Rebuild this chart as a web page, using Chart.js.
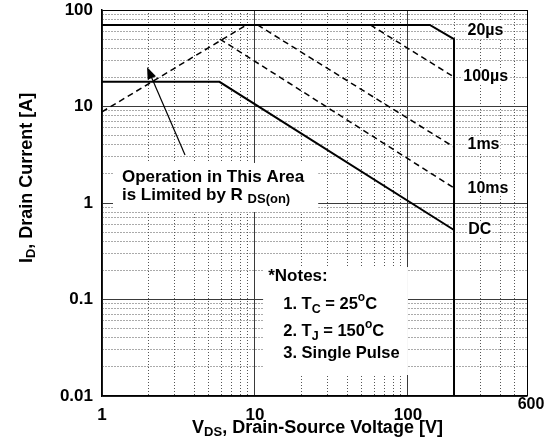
<!DOCTYPE html>
<html>
<head>
<meta charset="utf-8">
<style>
	html, body { margin: 0; padding: 0; background: #fff; }
	canvas { display: block; }
</style>
<script src="https://cdn.jsdelivr.net/npm/chart.js@4/dist/chart.umd.min.js"></script>
</head>
<body>
<canvas id="soa" width="557" height="443"></canvas>
<script>
// grid positions on both log axes
const xGrid = [1, 2, 3, 4, 5, 6, 7, 8, 9, 10, 20, 30, 40, 50, 60, 70, 80, 90, 100, 200, 300, 400, 500, 600];
const yGrid = [0.01, 0.02, 0.03, 0.04, 0.05, 0.06, 0.07, 0.08, 0.09,
	0.1, 0.2, 0.3, 0.4, 0.5, 0.6, 0.7, 0.8, 0.9,
	1, 2, 3, 4, 5, 6, 7, 8, 9,
	10, 20, 30, 40, 50, 60, 70, 80, 90, 100];
const xLabels = [1, 10, 100];
const xEdgeLabel = 600;
const yLabels = [0.01, 0.1, 1, 10, 100];

// SOA boundaries (V, A)
const rdsV = [1, 8.8];
const rdsI = [8.8, 70];
const us20V = [1, 139, 200, 200];
const us20I = [70, 70, 50, 0.01];
const us100V = [56.8, 200];
const us100I = [70, 20.2];
const ms1V = [10.4, 200];
const ms1I = [70, 3.8];
const ms10V = [5.9, 200];
const ms10I = [50, 1.43];
const dcV = [1, 5.86, 200];
const dcI = [18, 18, 0.525];

const FONT = '"Liberation Sans", Arial, sans-serif';

class SoaChart {
	_canvas;
	_chart;

	constructor(id) {
		this._canvas = document.getElementById(id);
	}

	series(xs, ys, dashed, width) {
		return {
			data: xs.map((x, i) => ({x: x, y: ys[i]})),
			showLine: true,
			pointRadius: 0,
			borderColor: '#000',
			borderWidth: width,
			borderDash: dashed ? [6, 4] : [],
			fill: false,
			tension: 0
		};
	}

	gridColor(ctx, majors, edge) {
		if (!ctx.tick) return '#000';
		const v = ctx.tick.value;
		if (v === edge) return '#000';
		return majors.includes(v) ? '#3a3a3a' : '#555';
	}

	gridDash(ctx, majors, edge) {
		if (!ctx.tick) return [];
		const v = ctx.tick.value;
		if (v === edge || majors.includes(v)) return [];
		return [1, 2];
	}

	// draws text pieces with sub / superscripts, from a left baseline point
	runs(ctx, x, y, parts) {
		let cx = x;
		for (const p of parts) {
			ctx.font = 'bold ' + p.size + 'px ' + FONT;
			ctx.fillText(p.t, cx, y + (p.dy || 0));
			cx += ctx.measureText(p.t).width;
		}
		return cx - x;
	}

	width(ctx, parts) {
		let w = 0;
		for (const p of parts) {
			ctx.font = 'bold ' + p.size + 'px ' + FONT;
			w += ctx.measureText(p.t).width;
		}
		return w;
	}

	decor() {
		const self = this;
		return {
			id: 'decor',
			beforeDatasetsDraw(chart) {
				const {ctx, scales: {x, y}} = chart;
				const box = (x0, y0, x1, y1) => {
					const l = x.getPixelForValue(x0), r = x.getPixelForValue(x1);
					const t = y.getPixelForValue(y0), b = y.getPixelForValue(y1);
					ctx.fillStyle = '#fff';
					ctx.fillRect(l, t, r - l, b - t);
				};
				ctx.save();
				box(1.18, 2.6, 25.9, 0.807);
				box(11.3, 0.217, 100, 0.0165);
				ctx.restore();
			},
			afterDatasetsDraw(chart) {
				const {ctx, scales: {x, y}} = chart;
				const at = (xv, yv) => [x.getPixelForValue(xv), y.getPixelForValue(yv)];
				ctx.save();
				ctx.fillStyle = '#000';
				ctx.textBaseline = 'alphabetic';
				ctx.textAlign = 'left';

				// curve labels on the right, with a tight white backing
				const tags = [
					['20\u00b5s', 245, 55.1],
					['100\u00b5s', 230, 18.4],
					['1ms', 245, 3.63],
					['10ms', 245, 1.27],
					['DC', 248, 0.477]
				];
				ctx.font = 'bold 16px ' + FONT;
				for (const [t, xv, yv] of tags) {
					const [px, py] = at(xv, yv);
					const w = ctx.measureText(t).width;
					ctx.fillStyle = '#fff';
					ctx.fillRect(px - 1, py - 13, w + 2, 16);
					ctx.fillStyle = '#000';
					ctx.fillText(t, px, py);
				}

				// R DS(on) note
				let [px, py] = at(1.35, 1.65);
				self.runs(ctx, px, py, [{t: 'Operation in This Area', size: 17}]);
				[px, py] = at(1.35, 1.07);
				self.runs(ctx, px, py, [
					{t: 'is Limited by R ', size: 17},
					{t: 'DS(on)', size: 13, dy: 3}
				]);

				// arrow toward the dashed limit line
				const [ax, ay] = at(3.49, 3.14);
				const [tx, ty] = at(1.97, 25.7);
				const ang = Math.atan2(ty - ay, tx - ax);
				ctx.strokeStyle = '#000';
				ctx.lineWidth = 1.2;
				ctx.beginPath();
				ctx.moveTo(ax, ay);
				ctx.lineTo(tx - 9 * Math.cos(ang), ty - 9 * Math.sin(ang));
				ctx.stroke();
				ctx.beginPath();
				ctx.moveTo(tx, ty);
				ctx.lineTo(tx - 12 * Math.cos(ang) + 4.5 * Math.sin(ang), ty - 12 * Math.sin(ang) - 4.5 * Math.cos(ang));
				ctx.lineTo(tx - 12 * Math.cos(ang) - 4.5 * Math.sin(ang), ty - 12 * Math.sin(ang) + 4.5 * Math.cos(ang));
				ctx.closePath();
				ctx.fill();

				// test conditions
				[px, py] = at(12.2, 0.156);
				self.runs(ctx, px, py, [{t: '*Notes:', size: 17}]);
				[px, py] = at(15.3, 0.0798);
				self.runs(ctx, px, py, [
					{t: '1. T', size: 16.5},
					{t: 'C', size: 12.5, dy: 4},
					{t: ' = 25', size: 16.5},
					{t: 'o', size: 12, dy: -8},
					{t: 'C', size: 16.5}
				]);
				[px, py] = at(15.3, 0.0419);
				self.runs(ctx, px, py, [
					{t: '2. T', size: 16.5},
					{t: 'J', size: 12.5, dy: 4},
					{t: ' = 150', size: 16.5},
					{t: 'o', size: 12, dy: -8},
					{t: 'C', size: 16.5}
				]);
				[px, py] = at(15.3, 0.0248);
				self.runs(ctx, px, py, [{t: '3. Single Pulse', size: 16.5}]);
				ctx.restore();
			},
			afterDraw(chart) {
				const {ctx, chartArea, scales: {x, y}} = chart;
				ctx.save();
				ctx.fillStyle = '#000';
				ctx.textBaseline = 'alphabetic';

				// last x tick sits above-right of the corner
				ctx.font = 'bold 16px ' + FONT;
				ctx.textAlign = 'center';
				ctx.fillText(String(xEdgeLabel), x.getPixelForValue(xEdgeLabel) + 4, chartArea.bottom + 13);

				// x title
				ctx.textAlign = 'left';
				const xParts = [
					{t: 'V', size: 18},
					{t: 'DS', size: 13, dy: 3},
					{t: ', Drain-Source Voltage [V]', size: 18}
				];
				let w = self.width(ctx, xParts);
				const cx = (chartArea.left + chartArea.right) / 2 + 3;
				self.runs(ctx, cx - w / 2, chartArea.bottom + 37, xParts);

				// y title, rotated
				const yParts = [
					{t: 'I', size: 18},
					{t: 'D', size: 13, dy: 3},
					{t: ', Drain Current [A]', size: 18}
				];
				w = self.width(ctx, yParts);
				ctx.translate(32, y.getPixelForValue(1.82));
				ctx.rotate(-Math.PI / 2);
				self.runs(ctx, -w / 2, 0, yParts);
				ctx.restore();
			}
		};
	}

	render() {
		const tickFont = {family: FONT, size: 17, weight: 'bold'};
		const config = {
			type: 'scatter',
			data: {
				datasets: [
					this.series(rdsV, rdsI, true, 1.5),
					this.series(us20V, us20I, false, 2),
					this.series(us100V, us100I, true, 1.5),
					this.series(ms1V, ms1I, true, 1.5),
					this.series(ms10V, ms10I, true, 1.5),
					this.series(dcV, dcI, false, 2)
				]
			},
			options: {
				responsive: false,
				animation: false,
				layout: {padding: {top: 10, right: 30, left: 0, bottom: 0}},
				plugins: {legend: {display: false}, tooltip: {enabled: false}},
				scales: {
					x: {
						type: 'logarithmic',
						min: 1,
						max: 600,
						afterBuildTicks: (axis) => { axis.ticks = xGrid.map(v => ({value: v})); },
						afterFit: (s) => {
							s.height = 47;
							s.paddingLeft = 0;
							s.paddingRight = 0;
						},
						ticks: {
							autoSkip: false,
							maxRotation: 0,
							padding: 9,
							color: '#000',
							font: tickFont,
							callback: (v) => xLabels.includes(v) ? String(v) : ''
						},
						grid: {
							drawTicks: false,
							lineWidth: 1,
							color: (ctx) => this.gridColor(ctx, xLabels, xEdgeLabel)
						},
						border: {
							display: true,
							color: '#000',
							width: 1.5,
							dash: (ctx) => this.gridDash(ctx, xLabels, xEdgeLabel)
						}
					},
					y: {
						type: 'logarithmic',
						min: 0.01,
						max: 100,
						afterBuildTicks: (axis) => { axis.ticks = yGrid.map(v => ({value: v})); },
						afterFit: (s) => {
							s.width = 102;
							s.paddingTop = 0;
							s.paddingBottom = 0;
						},
						ticks: {
							autoSkip: false,
							padding: 9,
							color: '#000',
							font: tickFont,
							callback: (v) => yLabels.includes(v) ? String(v) : ''
						},
						grid: {
							drawTicks: false,
							lineWidth: 1,
							color: (ctx) => this.gridColor(ctx, yLabels, 100)
						},
						border: {
							display: true,
							color: '#000',
							width: 1.5,
							dash: (ctx) => this.gridDash(ctx, yLabels, 100)
						}
					}
				}
			},
			plugins: [this.decor()]
		};
		this._chart = new Chart(this._canvas, config);
	}
}

const soa = new SoaChart('soa');
soa.render();
</script>
</body>
</html>
